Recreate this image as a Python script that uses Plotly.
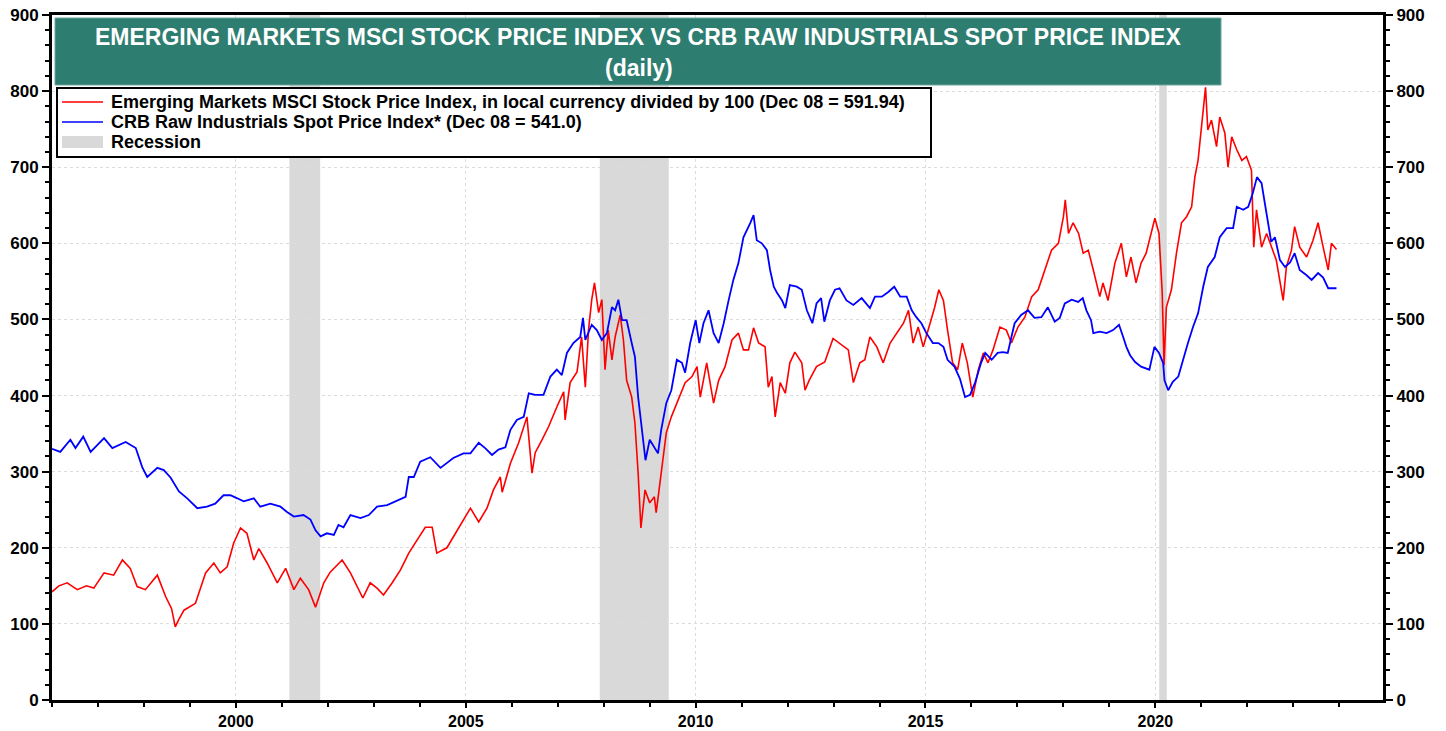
import pandas as pd
import plotly.graph_objects as go

# ---------------- data (decimal years) ----------------
em_years = [
    1996.00, 1996.15, 1996.33, 1996.55, 1996.75, 1996.91, 1997.13, 1997.34, 1997.53, 1997.70,
    1997.85, 1998.03, 1998.29, 1998.47, 1998.60, 1998.68, 1998.75, 1998.87, 1999.12, 1999.34,
    1999.52, 1999.66, 1999.81, 1999.95, 2000.10, 2000.24, 2000.39, 2000.50, 2000.68, 2000.90,
    2001.08, 2001.26, 2001.40, 2001.58, 2001.73, 2001.91, 2002.05, 2002.31, 2002.49, 2002.63,
    2002.76, 2002.92, 2003.07, 2003.21, 2003.40, 2003.58, 2003.76, 2003.94, 2004.12, 2004.27,
    2004.37, 2004.59, 2004.73, 2004.92, 2005.10, 2005.28, 2005.46, 2005.60, 2005.75, 2005.79,
    2005.97, 2006.15, 2006.33, 2006.44, 2006.51, 2006.66, 2006.80, 2006.98, 2007.13, 2007.16,
    2007.27, 2007.42, 2007.52, 2007.60, 2007.67, 2007.74, 2007.80, 2007.89, 2007.96, 2008.03,
    2008.10, 2008.18, 2008.25, 2008.36, 2008.43, 2008.50, 2008.61, 2008.68, 2008.75, 2008.81,
    2008.90, 2009.00, 2009.10, 2009.14, 2009.25, 2009.36, 2009.47, 2009.62, 2009.77, 2009.92,
    2010.03, 2010.10, 2010.24, 2010.39, 2010.50, 2010.64, 2010.79, 2010.93, 2011.04, 2011.15,
    2011.26, 2011.37, 2011.51, 2011.58, 2011.66, 2011.73, 2011.84, 2011.95, 2012.05, 2012.16,
    2012.31, 2012.38, 2012.47, 2012.63, 2012.81, 2012.99, 2013.13, 2013.32, 2013.43, 2013.57,
    2013.68, 2013.79, 2013.94, 2014.08, 2014.23, 2014.37, 2014.52, 2014.63, 2014.73, 2014.84,
    2014.95, 2015.10, 2015.20, 2015.29, 2015.39, 2015.48, 2015.59, 2015.70, 2015.80, 2015.91,
    2016.03, 2016.15, 2016.26, 2016.36, 2016.47, 2016.62, 2016.76, 2016.87, 2017.01, 2017.16,
    2017.31, 2017.45, 2017.60, 2017.74, 2017.89, 2018.00, 2018.04, 2018.11, 2018.21, 2018.33,
    2018.43, 2018.54, 2018.65, 2018.79, 2018.86, 2018.97, 2019.12, 2019.26, 2019.37, 2019.47,
    2019.58, 2019.69, 2019.80, 2019.91, 2019.99, 2020.08, 2020.15, 2020.19, 2020.24, 2020.35,
    2020.46, 2020.57, 2020.68, 2020.79, 2020.86, 2020.93, 2021.00, 2021.05, 2021.09, 2021.14,
    2021.22, 2021.33, 2021.40, 2021.51, 2021.58, 2021.66, 2021.77, 2021.88, 2021.98, 2022.09,
    2022.14, 2022.20, 2022.31, 2022.42, 2022.52, 2022.63, 2022.78, 2022.85, 2022.96, 2023.03,
    2023.14, 2023.29, 2023.43, 2023.54, 2023.65, 2023.76, 2023.83, 2023.94,
]
em_values = [
    142, 150, 154, 145, 150, 147, 167, 164, 184, 173,
    149, 145, 164, 136, 120, 96, 105, 118, 127, 167,
    180, 167, 175, 206, 226, 219, 184, 199, 180, 154,
    173, 145, 160, 145, 122, 154, 168, 184, 167, 149,
    134, 154, 147, 138, 154, 171, 193, 210, 227, 227,
    193, 200, 214, 233, 252, 234, 252, 276, 293, 273,
    311, 338, 372, 298, 325, 342, 359, 385, 405, 368,
    417, 431, 477, 411, 486, 526, 548, 509, 526, 434,
    486, 447, 477, 506, 473, 420, 398, 364, 298, 226,
    276, 259, 267, 246, 302, 351, 372, 394, 417, 425,
    438, 398, 443, 390, 420, 438, 473, 482, 460, 460,
    489, 469, 464, 411, 425, 372, 417, 403, 443, 457,
    443, 407, 420, 438, 444, 475, 469, 460, 417, 443,
    447, 477, 464, 443, 469, 482, 495, 512, 469, 490,
    464, 495, 516, 539, 525, 486, 443, 434, 469, 443,
    398, 434, 456, 443, 460, 490, 486, 469, 490, 503,
    530, 539, 565, 591, 600, 635, 657, 613, 627, 613,
    587, 591, 565, 530, 548, 525, 574, 600, 556, 582,
    548, 574, 587, 613, 633, 613, 535, 440, 516, 539,
    587, 627, 635, 648, 687, 709, 753, 779, 805, 749,
    762, 727, 766, 745, 700, 740, 723, 709, 714, 696,
    595, 644, 595, 613, 595, 578, 525, 569, 591, 622,
    595, 582, 604, 627, 595, 565, 600, 592,
]

crb_years = [
    1996.00, 1996.18, 1996.40, 1996.51, 1996.68, 1996.84, 1997.13, 1997.31, 1997.60, 1997.82,
    1997.96, 1998.07, 1998.29, 1998.43, 1998.58, 1998.76, 1998.94, 1999.16, 1999.37, 1999.55,
    1999.73, 1999.88, 2000.03, 2000.17, 2000.39, 2000.53, 2000.75, 2000.97, 2001.11, 2001.26,
    2001.47, 2001.62, 2001.73, 2001.84, 2001.98, 2002.13, 2002.23, 2002.34, 2002.49, 2002.71,
    2002.89, 2003.07, 2003.29, 2003.47, 2003.69, 2003.76, 2003.87, 2004.01, 2004.23, 2004.45,
    2004.59, 2004.73, 2004.95, 2005.10, 2005.28, 2005.42, 2005.57, 2005.71, 2005.86, 2005.97,
    2006.11, 2006.26, 2006.37, 2006.51, 2006.69, 2006.84, 2006.98, 2007.09, 2007.20, 2007.34,
    2007.49, 2007.55, 2007.60, 2007.74, 2007.85, 2007.96, 2008.07, 2008.18, 2008.25, 2008.32,
    2008.40, 2008.50, 2008.61, 2008.68, 2008.75, 2008.82, 2008.91, 2009.00, 2009.10, 2009.18,
    2009.25, 2009.36, 2009.47, 2009.59, 2009.70, 2009.77, 2009.88, 2010.00, 2010.08, 2010.17,
    2010.28, 2010.39, 2010.50, 2010.61, 2010.72, 2010.82, 2010.93, 2011.04, 2011.19, 2011.26,
    2011.33, 2011.44, 2011.55, 2011.62, 2011.70, 2011.77, 2011.88, 2011.95, 2012.05, 2012.20,
    2012.31, 2012.42, 2012.54, 2012.63, 2012.73, 2012.80, 2012.92, 2013.03, 2013.13, 2013.28,
    2013.43, 2013.61, 2013.79, 2013.90, 2014.05, 2014.19, 2014.32, 2014.45, 2014.59, 2014.70,
    2014.80, 2014.91, 2015.02, 2015.16, 2015.28, 2015.39, 2015.48, 2015.63, 2015.75, 2015.86,
    2015.97, 2016.08, 2016.21, 2016.30, 2016.44, 2016.57, 2016.68, 2016.79, 2016.87, 2016.94,
    2017.08, 2017.23, 2017.37, 2017.52, 2017.66, 2017.81, 2017.92, 2018.03, 2018.18, 2018.32,
    2018.42, 2018.50, 2018.60, 2018.65, 2018.79, 2018.94, 2019.08, 2019.21, 2019.30, 2019.37,
    2019.45, 2019.56, 2019.69, 2019.80, 2019.87, 2019.98, 2020.08, 2020.17, 2020.20, 2020.28,
    2020.38, 2020.50, 2020.60, 2020.71, 2020.82, 2020.93, 2021.04, 2021.14, 2021.29, 2021.40,
    2021.55, 2021.69, 2021.77, 2021.91, 2022.02, 2022.12, 2022.21, 2022.31, 2022.38, 2022.45,
    2022.52, 2022.60, 2022.71, 2022.82, 2022.93, 2023.03, 2023.14, 2023.29, 2023.40, 2023.54,
    2023.65, 2023.76, 2023.94,
]
crb_values = [
    330, 326, 342, 331, 346, 326, 344, 331, 339, 331,
    306, 293, 305, 302, 292, 274, 265, 252, 254, 258,
    269, 269, 265, 261, 265, 254, 258, 254, 247, 241,
    243, 237, 223, 215, 219, 217, 230, 227, 243, 239,
    243, 254, 256, 261, 267, 293, 293, 313, 319, 305,
    311, 318, 324, 324, 338, 331, 322, 329, 332, 355,
    368, 372, 403, 401, 401, 425, 434, 427, 456, 469,
    477, 502, 473, 493, 486, 473, 482, 516, 512, 526,
    499, 499, 469, 451, 398, 364, 315, 342, 332, 324,
    355, 390, 407, 447, 443, 430, 469, 499, 469, 495,
    512, 482, 469, 495, 526, 552, 574, 608, 627, 637,
    604, 600, 591, 565, 543, 535, 525, 515, 545, 543,
    539, 512, 495, 521, 528, 497, 525, 539, 541, 525,
    519, 528, 515, 530, 530, 536, 543, 530, 530, 512,
    503, 495, 482, 469, 469, 464, 447, 438, 422, 398,
    401, 417, 443, 456, 447, 456, 457, 456, 477, 495,
    506, 512, 502, 503, 516, 497, 502, 521, 526, 523,
    528, 512, 499, 482, 484, 482, 486, 493, 477, 464,
    453, 444, 438, 436, 434, 464, 456, 443, 420, 407,
    418, 425, 447, 469, 490, 508, 543, 569, 582, 608,
    620, 620, 648, 644, 648, 666, 687, 679, 653, 627,
    602, 608, 578, 569, 575, 587, 565, 558, 552, 561,
    555, 541, 541,
]

recession_starts = ["2001-03-01", "2007-12-01", "2020-02-01"]
recession_ends = ["2001-11-01", "2009-06-01", "2020-04-01"]

title_line1 = "EMERGING MARKETS MSCI STOCK PRICE INDEX VS CRB RAW INDUSTRIALS SPOT PRICE INDEX"
title_line2 = "(daily)"
em_name = "Emerging Markets MSCI Stock Price Index, in local currency divided by 100 (Dec 08 = 591.94)"
crb_name = "CRB Raw Industrials Spot Price Index* (Dec 08 = 541.0)"
recession_name = "Recession"


def to_dates(years):
    out = []
    for y in years:
        base = int(y)
        out.append(pd.Timestamp(f"{base}-01-01") + pd.Timedelta(days=(y - base) * 365.25))
    return out


FONT = "Arial, 'Liberation Sans', sans-serif"
RED = "#FF0000"
BLUE = "#0000FF"
GREY = "#D9D9D9"

# plot-area geometry in pixels (for paper-coordinate helpers)
L, R, T, B, W, H = 52, 63, 15, 31, 1446, 731
PW, PH = W - L - R, H - T - B


def px(xp):
    return (xp - L) / PW


def py(yp):
    return (H - B - yp) / PH


fig = go.Figure()
fig.add_trace(go.Scatter(x=to_dates(em_years), y=em_values, mode="lines", name=em_name,
                         line=dict(color=RED, width=1.6), showlegend=False))
fig.add_trace(go.Scatter(x=to_dates(crb_years), y=crb_values, mode="lines", name=crb_name,
                         line=dict(color=BLUE, width=1.8), yaxis="y2", showlegend=False))

for s, e in zip(recession_starts, recession_ends):
    fig.add_shape(type="rect", xref="x", yref="paper", x0=s, x1=e, y0=0, y1=1,
                  fillcolor=GREY, line=dict(width=0), layer="below")

# title box
fig.add_shape(type="rect", xref="paper", yref="paper", x0=px(55), x1=px(1221), y0=py(85), y1=py(18),
              fillcolor="#2E7D71", line=dict(width=1, color="#6FA79E"), layer="above")
fig.add_annotation(xref="paper", yref="paper", x=px(638), y=py(37), yanchor="middle", xanchor="center",
                   text="<b>" + title_line1 + "</b>", showarrow=False,
                   font=dict(family=FONT, size=23, color="white"))
fig.add_annotation(xref="paper", yref="paper", x=px(639), y=py(68), yanchor="middle", xanchor="center",
                   text="<b>" + title_line2 + "</b>", showarrow=False,
                   font=dict(family=FONT, size=23, color="white"))

# legend box (drawn like the original's boxed key)
fig.add_shape(type="rect", xref="paper", yref="paper", x0=px(57), x1=px(931), y0=py(157), y1=py(88),
              fillcolor="white", line=dict(width=2, color="black"), layer="above")
legend_rows = [(em_name, RED, 102, "line"), (crb_name, BLUE, 122, "line"), (recession_name, GREY, 142, "box")]
for name, col, yrow, kind in legend_rows:
    if kind == "line":
        fig.add_shape(type="line", xref="paper", yref="paper", x0=px(62), x1=px(103), y0=py(yrow), y1=py(yrow),
                      line=dict(color=col, width=1.6), layer="above")
    else:
        fig.add_shape(type="rect", xref="paper", yref="paper", x0=px(62), x1=px(103), y0=py(yrow + 6),
                      y1=py(yrow - 6), fillcolor=col, line=dict(width=0), layer="above")
    fig.add_annotation(xref="paper", yref="paper", x=px(109), y=py(yrow), xanchor="left", yanchor="middle",
                       text="<b>" + name + "</b>", showarrow=False,
                       font=dict(family=FONT, size=18, color="black"))

y_common = dict(
    showline=True, linewidth=3, linecolor="black",
    ticks="outside", ticklen=7, tickwidth=1.5, tickcolor="black",
    tickfont=dict(family=FONT, size=17, color="black", weight="bold"),
)

fig.update_layout(
    width=W, height=H,
    margin=dict(l=L, r=R, t=T, b=B, autoexpand=False),
    paper_bgcolor="white", plot_bgcolor="white",
    font=dict(family=FONT, color="black"),
    showlegend=False,
    xaxis=dict(
        type="date", range=["1996-01-01", "2024-12-14"],
        tick0="2000-01-01", dtick="M60", tickformat="%Y",
        mirror=True, showline=True, linewidth=3, linecolor="black",
        ticks="outside", ticklen=5, tickwidth=1.5, tickcolor="black",
        tickfont=dict(family=FONT, size=16, color="black", weight="bold"),
        showgrid=True, gridcolor="#DCDCDC", griddash="dot", gridwidth=1,
        minor=dict(dtick="M12", ticks="outside", ticklen=4, tickcolor="black", showgrid=False),
    ),
    yaxis=dict(
        range=[0, 900], dtick=100, zeroline=False,
        showgrid=True, gridcolor="#DCDCDC", griddash="dot", gridwidth=1,
        minor=dict(dtick=20, ticks="outside", ticklen=4, tickcolor="black", showgrid=False),
        **y_common,
    ),
    yaxis2=dict(
        range=[0, 900], dtick=100, overlaying="y", side="right", anchor="x",
        zeroline=False, showgrid=False,
        minor=dict(dtick=20, ticks="outside", ticklen=4, tickcolor="black", showgrid=False),
        **y_common,
    ),
)

fig.write_html("out.html", config={"displayModeBar": False},
               post_script="document.body.style.margin='0';document.body.style.overflow='hidden';")
